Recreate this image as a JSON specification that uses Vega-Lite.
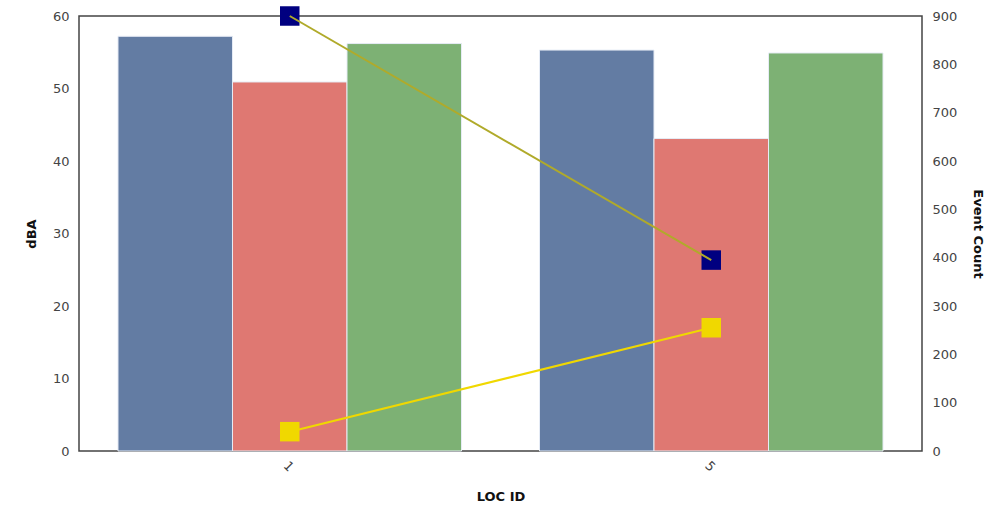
{
  "$schema": "https://vega.github.io/schema/vega-lite/v6.json",
  "width": 843,
  "height": 435,
  "autosize": "none",
  "padding": {"left": 79, "top": 16, "right": 85, "bottom": 56},
  "background": "white",
  "config": {
    "view": {"stroke": "#444444", "strokeWidth": 1.5},
    "font": "DejaVu Sans",
    "axis": {
      "grid": false,
      "ticks": false,
      "domain": false,
      "labelFont": "DejaVu Sans",
      "labelFontSize": 13,
      "labelColor": "#444444",
      "titleFont": "DejaVu Sans",
      "titleFontSize": 13,
      "titleFontWeight": "bold",
      "titleColor": "#111111"
    }
  },
  "layer": [
    {
      "data": {
        "values": [
          {"loc": "1", "series": "A", "dBA": 57.2},
          {"loc": "1", "series": "B", "dBA": 50.9},
          {"loc": "1", "series": "C", "dBA": 56.2},
          {"loc": "5", "series": "A", "dBA": 55.3},
          {"loc": "5", "series": "B", "dBA": 43.1},
          {"loc": "5", "series": "C", "dBA": 54.9}
        ]
      },
      "mark": {"type": "bar", "stroke": "#e6ecf5", "strokeWidth": 1},
      "encoding": {
        "x": {
          "field": "loc",
          "type": "nominal",
          "scale": {"paddingInner": 0.185, "paddingOuter": 0.0925},
          "axis": {"title": "LOC ID", "labelAngle": 45, "labelPadding": 8, "titlePadding": 16}
        },
        "xOffset": {"field": "series", "type": "nominal", "scale": {"paddingInner": 0, "paddingOuter": 0}},
        "y": {
          "field": "dBA",
          "type": "quantitative",
          "scale": {"domain": [0, 60], "nice": false},
          "axis": {"title": "dBA", "values": [0, 10, 20, 30, 40, 50, 60], "labelPadding": 10, "titlePadding": 14}
        },
        "color": {
          "field": "series",
          "type": "nominal",
          "scale": {"domain": ["A", "B", "C"], "range": ["#637ca3", "#df7872", "#7db174"]},
          "legend": null
        }
      }
    },
    {
      "data": {
        "values": [
          {"loc": "1", "line": "N", "count": 900},
          {"loc": "5", "line": "N", "count": 395},
          {"loc": "1", "line": "Y", "count": 40},
          {"loc": "5", "line": "Y", "count": 255}
        ]
      },
      "encoding": {
        "x": {"field": "loc", "type": "nominal"},
        "y": {
          "field": "count",
          "type": "quantitative",
          "scale": {"domain": [0, 900], "nice": false},
          "axis": {"orient": "right", "title": "Event Count", "titleAngle": 90, "values": [0, 100, 200, 300, 400, 500, 600, 700, 800, 900], "labelPadding": 10, "titlePadding": 14}
        }
      },
      "layer": [
        {
          "mark": {"type": "point", "shape": "square", "filled": true, "size": 380, "opacity": 1},
          "encoding": {
            "color": {
              "field": "line",
              "type": "nominal",
              "scale": {"domain": ["N", "Y"], "range": ["#000080", "#f0d800"]},
              "legend": null
            }
          }
        },
        {
          "mark": {"type": "line", "strokeWidth": 2},
          "encoding": {
            "detail": {"field": "line", "type": "nominal"},
            "stroke": {
              "field": "line",
              "type": "nominal",
              "scale": {"domain": ["N", "Y"], "range": ["#b0aa2a", "#f0d800"]},
              "legend": null
            }
          }
        }
      ]
    }
  ],
  "resolve": {"scale": {"y": "independent", "color": "independent", "stroke": "independent"}}
}
